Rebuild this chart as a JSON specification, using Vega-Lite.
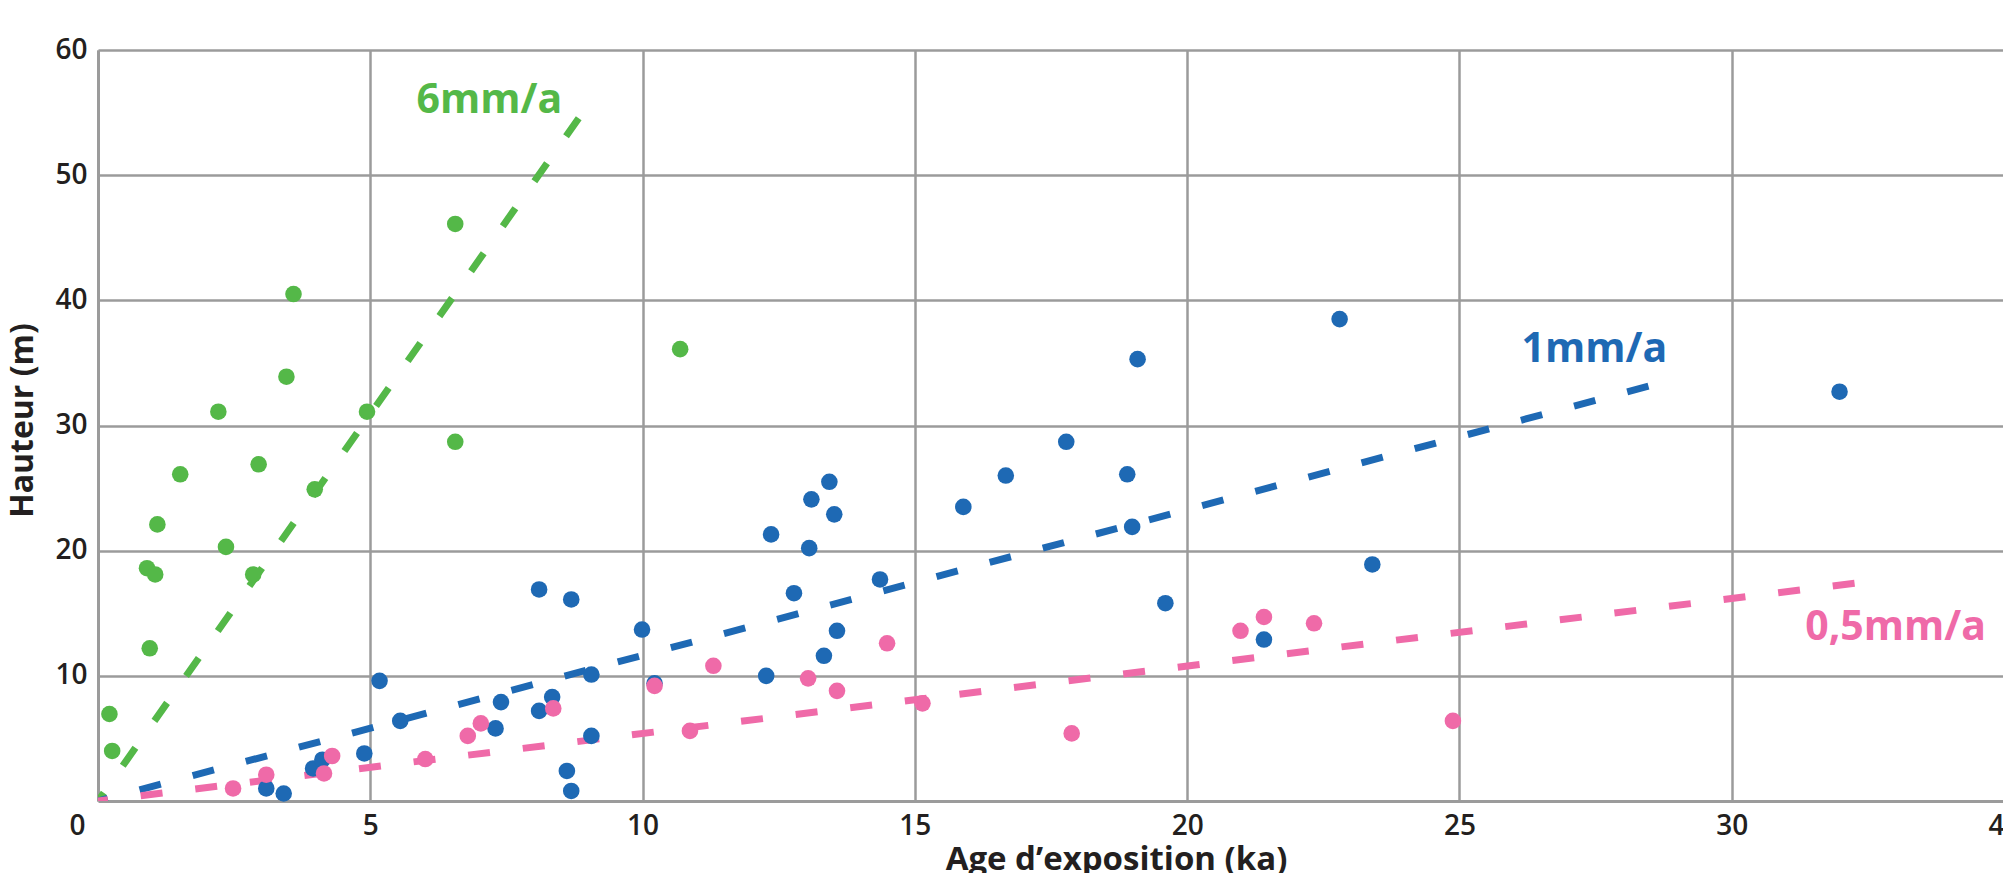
{
  "$schema": "https://vega.github.io/schema/vega-lite/v6.json",
  "width": 1906,
  "height": 751,
  "autosize": {"type": "none"},
  "padding": {"left": 98, "top": 50, "right": 0, "bottom": 72},
  "background": "white",
  "config": {"view": {"stroke": null}, "font": "Open Sans"},
  "datasets": {
    "points": [
      {"serie": "6mm/a", "age": 0.21, "hauteur": 6.95},
      {"serie": "6mm/a", "age": 0.26, "hauteur": 4.0},
      {"serie": "6mm/a", "age": 0.90, "hauteur": 18.6},
      {"serie": "6mm/a", "age": 1.05, "hauteur": 18.1},
      {"serie": "6mm/a", "age": 0.95, "hauteur": 12.2},
      {"serie": "6mm/a", "age": 1.09, "hauteur": 22.1},
      {"serie": "6mm/a", "age": 1.51, "hauteur": 26.1},
      {"serie": "6mm/a", "age": 2.21, "hauteur": 31.1},
      {"serie": "6mm/a", "age": 2.35, "hauteur": 20.3},
      {"serie": "6mm/a", "age": 2.85, "hauteur": 18.1},
      {"serie": "6mm/a", "age": 2.95, "hauteur": 26.9},
      {"serie": "6mm/a", "age": 3.46, "hauteur": 33.9},
      {"serie": "6mm/a", "age": 3.59, "hauteur": 40.5},
      {"serie": "6mm/a", "age": 3.98, "hauteur": 24.9},
      {"serie": "6mm/a", "age": 4.94, "hauteur": 31.1},
      {"serie": "6mm/a", "age": 6.56, "hauteur": 46.1},
      {"serie": "6mm/a", "age": 6.56, "hauteur": 28.7},
      {"serie": "6mm/a", "age": 10.69, "hauteur": 36.1},
      {"serie": "1mm/a", "age": 3.09, "hauteur": 1.0},
      {"serie": "1mm/a", "age": 3.41, "hauteur": 0.6},
      {"serie": "1mm/a", "age": 3.95, "hauteur": 2.6},
      {"serie": "1mm/a", "age": 4.12, "hauteur": 3.3},
      {"serie": "1mm/a", "age": 4.89, "hauteur": 3.8},
      {"serie": "1mm/a", "age": 5.17, "hauteur": 9.6},
      {"serie": "1mm/a", "age": 5.55, "hauteur": 6.4},
      {"serie": "1mm/a", "age": 7.30, "hauteur": 5.8},
      {"serie": "1mm/a", "age": 7.40, "hauteur": 7.9},
      {"serie": "1mm/a", "age": 8.10, "hauteur": 7.2},
      {"serie": "1mm/a", "age": 8.34, "hauteur": 8.3},
      {"serie": "1mm/a", "age": 8.10, "hauteur": 16.9},
      {"serie": "1mm/a", "age": 8.69, "hauteur": 16.1},
      {"serie": "1mm/a", "age": 8.61, "hauteur": 2.4},
      {"serie": "1mm/a", "age": 8.69, "hauteur": 0.8},
      {"serie": "1mm/a", "age": 9.06, "hauteur": 10.1},
      {"serie": "1mm/a", "age": 9.06, "hauteur": 5.2},
      {"serie": "1mm/a", "age": 9.99, "hauteur": 13.7},
      {"serie": "1mm/a", "age": 10.22, "hauteur": 9.4},
      {"serie": "1mm/a", "age": 12.27, "hauteur": 10.0},
      {"serie": "1mm/a", "age": 12.36, "hauteur": 21.3},
      {"serie": "1mm/a", "age": 12.78, "hauteur": 16.6},
      {"serie": "1mm/a", "age": 13.06, "hauteur": 20.2},
      {"serie": "1mm/a", "age": 13.10, "hauteur": 24.1},
      {"serie": "1mm/a", "age": 13.43, "hauteur": 25.5},
      {"serie": "1mm/a", "age": 13.52, "hauteur": 22.9},
      {"serie": "1mm/a", "age": 13.33, "hauteur": 11.6},
      {"serie": "1mm/a", "age": 13.57, "hauteur": 13.6},
      {"serie": "1mm/a", "age": 14.36, "hauteur": 17.7},
      {"serie": "1mm/a", "age": 15.89, "hauteur": 23.5},
      {"serie": "1mm/a", "age": 16.67, "hauteur": 26.0},
      {"serie": "1mm/a", "age": 17.78, "hauteur": 28.7},
      {"serie": "1mm/a", "age": 18.90, "hauteur": 26.1},
      {"serie": "1mm/a", "age": 18.99, "hauteur": 21.9},
      {"serie": "1mm/a", "age": 19.09, "hauteur": 35.3},
      {"serie": "1mm/a", "age": 19.60, "hauteur": 15.8},
      {"serie": "1mm/a", "age": 21.41, "hauteur": 12.9},
      {"serie": "1mm/a", "age": 22.80, "hauteur": 38.5},
      {"serie": "1mm/a", "age": 23.40, "hauteur": 18.9},
      {"serie": "1mm/a", "age": 31.98, "hauteur": 32.7},
      {"serie": "0,5mm/a", "age": 2.48, "hauteur": 1.0},
      {"serie": "0,5mm/a", "age": 3.09, "hauteur": 2.1},
      {"serie": "0,5mm/a", "age": 4.15, "hauteur": 2.2},
      {"serie": "0,5mm/a", "age": 4.30, "hauteur": 3.6},
      {"serie": "0,5mm/a", "age": 6.01, "hauteur": 3.35},
      {"serie": "0,5mm/a", "age": 6.79, "hauteur": 5.2},
      {"serie": "0,5mm/a", "age": 7.03, "hauteur": 6.2},
      {"serie": "0,5mm/a", "age": 8.36, "hauteur": 7.4},
      {"serie": "0,5mm/a", "age": 10.22, "hauteur": 9.2},
      {"serie": "0,5mm/a", "age": 10.87, "hauteur": 5.6},
      {"serie": "0,5mm/a", "age": 11.30, "hauteur": 10.8},
      {"serie": "0,5mm/a", "age": 13.04, "hauteur": 9.8},
      {"serie": "0,5mm/a", "age": 13.57, "hauteur": 8.8},
      {"serie": "0,5mm/a", "age": 14.49, "hauteur": 12.6},
      {"serie": "0,5mm/a", "age": 15.14, "hauteur": 7.8},
      {"serie": "0,5mm/a", "age": 17.88, "hauteur": 5.4},
      {"serie": "0,5mm/a", "age": 20.98, "hauteur": 13.6},
      {"serie": "0,5mm/a", "age": 21.41, "hauteur": 14.7},
      {"serie": "0,5mm/a", "age": 22.33, "hauteur": 14.2},
      {"serie": "0,5mm/a", "age": 24.88, "hauteur": 6.4}
    ],
    "lignes": [
      {"serie": "6mm/a", "age": 0, "hauteur": 0},
      {"serie": "6mm/a", "age": 9.03, "hauteur": 55.8},
      {"serie": "1mm/a", "age": 0, "hauteur": 0},
      {"serie": "1mm/a", "age": 28.95, "hauteur": 33.7},
      {"serie": "0,5mm/a", "age": 0, "hauteur": 0},
      {"serie": "0,5mm/a", "age": 32.55, "hauteur": 17.55}
    ],
    "etiquettes": [
      {"serie": "6mm/a", "age": 5.85, "hauteur": 54.95, "texte": "6mm/a"},
      {"serie": "1mm/a", "age": 26.14, "hauteur": 35.09, "texte": "1mm/a"},
      {"serie": "0,5mm/a", "age": 31.35, "hauteur": 12.86, "texte": "0,5mm/a"}
    ]
  },
  "encoding": {
    "x": {
      "field": "age",
      "type": "quantitative",
      "scale": {"domain": [0, 35], "nice": false, "zero": false},
      "axis": {
        "title": "Age d’exposition (ka)",
        "values": [0, 5, 10, 15, 20, 25, 30, 35],
        "labelExpr": "datum.value == 35 ? '40' : datum.label",
        "labelAlign": {"condition": {"test": "datum.value == 0", "value": "right"}, "value": "center"},
        "labelOffset": {"condition": {"test": "datum.value == 0", "value": -13}, "value": 0},
        "grid": true,
        "gridColor": "#9b9b9b",
        "gridWidth": 2.5,
        "domainColor": "#9b9b9b",
        "domainWidth": 3,
        "ticks": false,
        "tickSize": 0,
        "labelFontSize": 28,
        "labelFontWeight": 600,
        "labelColor": "#231f20",
        "labelPadding": 11,
        "labelFlush": false,
        "labelOverlap": false,
        "labelBound": false,
        "titleFontSize": 33,
        "titleFontWeight": "bold",
        "titleColor": "#231f20",
        "titleX": 1018,
        "titleY": 68,
        "titleBaseline": "alphabetic",
        "titleAlign": "center"
      }
    },
    "y": {
      "field": "hauteur",
      "type": "quantitative",
      "scale": {"domain": [0, 60], "nice": false},
      "axis": {
        "title": "Hauteur (m)",
        "values": [10, 20, 30, 40, 50, 60],
        "grid": true,
        "gridColor": "#9b9b9b",
        "gridWidth": 2.5,
        "domainColor": "#9b9b9b",
        "domainWidth": 3,
        "ticks": false,
        "tickSize": 0,
        "labelFontSize": 28,
        "labelFontWeight": 600,
        "labelColor": "#231f20",
        "labelPadding": 11,
        "labelFlush": false,
        "labelOverlap": false,
        "labelBound": false,
        "titleFontSize": 32,
        "titleFontWeight": "bold",
        "titleColor": "#231f20",
        "titleAngle": -90,
        "titleX": -66,
        "titleY": 370,
        "titleBaseline": "alphabetic",
        "titleAlign": "center"
      }
    },
    "color": {
      "field": "serie",
      "type": "nominal",
      "scale": {"domain": ["6mm/a", "1mm/a", "0,5mm/a"], "range": ["#54b848", "#1e69b4", "#ef6aa8"]},
      "legend": null
    }
  },
  "layer": [
    {
      "data": {"name": "lignes"},
      "mark": {"type": "line", "strokeWidth": 7, "strokeDash": [22, 33], "strokeDashOffset": 12, "strokeCap": "butt", "clip": true},
      "encoding": {"detail": {"field": "serie"}}
    },
    {
      "data": {"name": "points"},
      "mark": {"type": "circle", "size": 275, "opacity": 1}
    },
    {
      "data": {"name": "etiquettes"},
      "mark": {"type": "text", "align": "left", "baseline": "alphabetic", "fontSize": 41, "fontWeight": "bold"},
      "encoding": {"text": {"field": "texte"}}
    }
  ]
}
